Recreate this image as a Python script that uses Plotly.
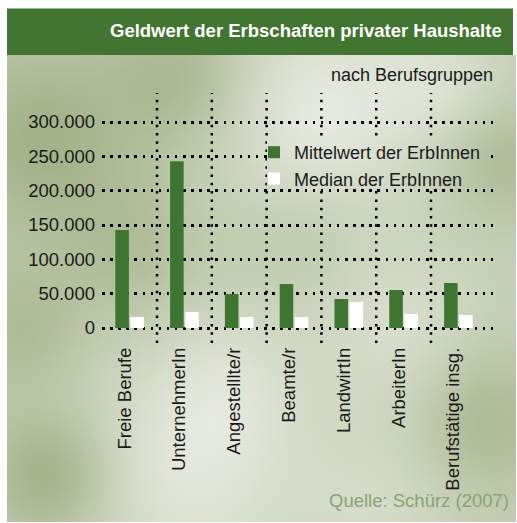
import base64
import struct
import zlib

import numpy as np
import plotly.graph_objects as go

# ---------------- data ----------------
categories = ["Freie Berufe", "UnternehmerIn", "Angestellte/r", "Beamte/r",
              "LandwirtIn", "ArbeiterIn", "Berufstätige insg."]
category_labels = ["Freie Berufe", "UnternehmerIn", "Angestelllte/r", "Beamte/r",
                   "LandwirtIn", "ArbeiterIn", "Berufstätige insg."]
mean_values = [142700, 243000, 49500, 64000, 42200, 55300, 65500]
median_values = [16000, 23300, 16000, 16000, 37900, 20400, 18900]
series_names = ["Mittelwert der ErbInnen", "Median der ErbInnen"]
y_ticks = [0, 50000, 100000, 150000, 200000, 250000, 300000]

title_text = "Geldwert der Erbschaften privater Haushalte"
subtitle_text = "nach Berufsgruppen"
source_text = "Quelle: Schürz (2007)"

# ---------------- layout geometry ----------------
W, H = 517, 523
ML, MR, MT, MB = 102, 21, 93, 180
PW, PH = W - ML - MR, H - MT - MB


def px(x):
    return (x - ML) / PW


def py(y):
    return (H - MB - y) / PH


# ---------------- cloudy background image ----------------
BLOBS = [
    (40, 140, 70, -0.45), (180, 75, 50, -0.35), (130, 250, 50, -0.25),
    (50, 475, 45, -0.5), (505, 160, 40, -0.3), (485, 420, 50, -0.35),
    (20, 330, 45, -0.3), (300, 240, 40, -0.12),
    (320, 110, 70, 0.45), (190, 470, 80, 0.4), (400, 330, 60, 0.25),
    (230, 380, 50, 0.2), (380, 505, 60, 0.2), (440, 80, 45, 0.25),
]


def make_bg(x0, x1, y0, y1, scale=4.0):
    iw = max(2, int(round((x1 - x0) / scale)))
    ih = max(2, int(round((y1 - y0) / scale)))
    xs = x0 + (np.arange(iw) + 0.5) * (x1 - x0) / iw
    ys = y0 + (np.arange(ih) + 0.5) * (y1 - y0) / ih
    X, Y = np.meshgrid(xs, ys)
    t = np.full_like(X, 0.5)
    for cx, cy, s, a in BLOBS:
        t += a * np.exp(-((X - cx) ** 2 + (Y - cy) ** 2) / (2 * s * s))
    t = np.clip(t, 0, 1)[..., None]
    dark = np.array([160, 177, 133], float)
    light = np.array([234, 237, 228], float)
    img = (dark + (light - dark) * t).astype(np.uint8)
    raw = b"".join(b"\x00" + img[r].tobytes() for r in range(ih))

    def chunk(tag, data):
        c = struct.pack(">I", len(data)) + tag + data
        return c + struct.pack(">I", zlib.crc32(tag + data) & 0xffffffff)

    png = b"\x89PNG\r\n\x1a\n" + chunk(b"IHDR", struct.pack(">IIBBBBB", iw, ih, 8, 2, 0, 0, 0)) \
        + chunk(b"IDAT", zlib.compress(raw, 9)) + chunk(b"IEND", b"")
    return "data:image/png;base64," + base64.b64encode(png).decode()


def add_bg(fig, x0, x1, y0, y1, layer, scale=4.0):
    fig.add_layout_image(dict(source=make_bg(x0, x1, y0, y1, scale), xref="paper", yref="paper",
                              x=px(x0), y=py(y0), sizex=px(x1) - px(x0), sizey=py(y0) - py(y1),
                              xanchor="left", yanchor="top", sizing="stretch", layer=layer))


FONT = "Liberation Sans, Arial, sans-serif"
GREEN = "#3e7530"

fig = go.Figure()
fig.add_trace(go.Bar(x=categories, y=mean_values, name=series_names[0],
                     marker=dict(color=GREEN, line=dict(width=0))))
fig.add_trace(go.Bar(x=categories, y=median_values, name=series_names[1],
                     marker=dict(color="#ffffff", line=dict(width=0))))

# dotted separators between categories
for i in range(len(categories) - 1):
    fig.add_shape(type="line", xref="x", yref="y", x0=i + 0.5, x1=i + 0.5,
                  y0=-21845, y1=342233, layer="between",
                  line=dict(color="#000000", width=2.5, dash="2.5px,5.8px"))

# background, legend backdrop and title bar
add_bg(fig, 7, 516, 55, 522, "below")
add_bg(fig, 267, 489, 136, 186, "above", scale=2.0)
fig.add_shape(type="rect", xref="paper", yref="paper", x0=px(7), x1=px(513),
              y0=py(55), y1=py(8.5), fillcolor="#427432", line=dict(width=0), layer="below")

fig.add_annotation(text=title_text, xref="paper", yref="paper", x=px(504), y=py(30),
                   xanchor="right", yanchor="middle", showarrow=False,
                   font=dict(family=FONT, size=18.5, color="#ffffff", weight="bold"))
fig.add_annotation(text=subtitle_text, xref="paper", yref="paper", x=px(495), y=py(75),
                   xanchor="right", yanchor="middle", showarrow=False,
                   font=dict(family=FONT, size=18, color="#1a1a1a"))
fig.add_annotation(text=source_text, xref="paper", yref="paper", x=px(511), y=py(500),
                   xanchor="right", yanchor="middle", showarrow=False,
                   font=dict(family=FONT, size=18.5, color="#8aa373"))

fig.update_layout(
    width=W, height=H,
    margin=dict(l=ML, r=MR, t=MT, b=MB, pad=0),
    paper_bgcolor="#ffffff", plot_bgcolor="rgba(0,0,0,0)",
    separators=",.",
    barmode="group", bargap=0.45, bargroupgap=0.1,
    font=dict(family=FONT, size=18, color="#1a1a1a"),
    showlegend=True,
    legend=dict(x=px(254), y=py(134), xanchor="left", yanchor="top",
                bgcolor="rgba(0,0,0,0)", font=dict(size=18, color="#1a1a1a"),
                tracegroupgap=0, itemclick=False),
    xaxis=dict(type="category", categoryorder="array", categoryarray=categories,
               tickvals=categories, ticktext=category_labels,
               range=[-0.504, 6.686], showgrid=False, zeroline=False, showline=False,
               ticks="", tickangle=-90, ticklabelshift=-5,
               tickfont=dict(size=18.5, color="#1a1a1a")),
    yaxis=dict(range=[-21845, 342233], tickvals=y_ticks, tickformat=",d",
               showgrid=True, gridcolor="#000000", gridwidth=2.5, griddash="2.5px,5.6px",
               zeroline=False, showline=False, ticks="", ticklabelstandoff=6,
               tickfont=dict(size=18.5, color="#1a1a1a")),
)

fig.write_html("out.html", config={"displayModeBar": False},
               post_script="document.body.style.margin='0';")
